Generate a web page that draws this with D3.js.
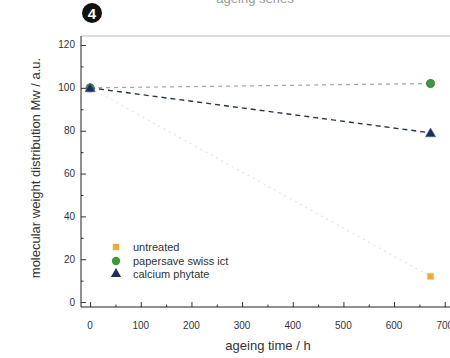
<!DOCTYPE html>
<html>
<head>
<meta charset="utf-8">
<script src="https://cdn.jsdelivr.net/npm/d3@7"></script>
<style>
body { margin: 0; background: #fff; }
svg { font-family: "Liberation Sans", Arial, sans-serif; }
</style>
</head>
<body>
<svg></svg>
<script>
const width = 450, height = 358
var svg = d3.select("svg")
    .attr("width", width)
    .attr("height", height);

// data
const times = [0, 672]
const untreated = [100, 12]
const papersave = [100, 102]
const phytate = [100, 79]
const seriesNames = ["untreated", "papersave swiss ict", "calcium phytate"]
const xTicks = [0, 100, 200, 300, 400, 500, 600, 700]
const yTicks = [0, 20, 40, 60, 80, 100, 120]

const x = d3.scaleLinear().domain([-18, 740]).range([81, 465])
const y = d3.scaleLinear().domain([-2.3, 124.2]).range([307, 36])

// faint cut-off title at the very top
svg.append("text")
    .attr("x", 255).attr("y", 3)
    .attr("text-anchor", "middle")
    .attr("font-size", 13)
    .attr("fill", "#999")
    .text("ageing series")

// panel badge
svg.append("circle").attr("cx", 92).attr("cy", 13).attr("r", 10).attr("fill", "#111")
svg.append("text")
    .attr("x", 92).attr("y", 18.5)
    .attr("text-anchor", "middle")
    .attr("font-size", 15).attr("font-weight", "bold")
    .attr("fill", "#fff")
    .text("4")

// frame top (light)
svg.append("line")
    .attr("x1", 81).attr("x2", 450)
    .attr("y1", 36).attr("y2", 36)
    .attr("stroke", "#aaa").attr("stroke-width", 0.8)

// axes, ticks pointing inward
const xAxis = svg.append("g")
    .attr("transform", "translate(0,307)")
    .call(d3.axisTop(x).tickValues(d3.range(0, 750, 50)).tickSize(4).tickFormat(""))
xAxis.select(".domain").remove()
svg.append("line").attr("x1", 81).attr("x2", 450).attr("y1", 307).attr("y2", 307)
    .attr("stroke", "#222").attr("stroke-width", 1)
xAxis.selectAll(".tick line")
    .attr("stroke", "#333")
    .attr("y2", (d) => d % 100 === 0 ? -5 : -2.5)

svg.selectAll(".xlab")
    .data(xTicks)
    .enter()
    .append("text")
    .attr("class", "xlab")
    .attr("x", d => x(d))
    .attr("y", 329)
    .attr("text-anchor", "middle")
    .attr("font-size", 10)
    .attr("fill", "#333")
    .text(d => d)

const yAxis = svg.append("g")
    .attr("transform", "translate(81,0)")
    .call(d3.axisRight(y).tickValues(d3.range(0, 130, 10)).tickSize(4).tickFormat(""))
yAxis.select(".domain").remove()
svg.append("line").attr("x1", 81).attr("x2", 81).attr("y1", 36).attr("y2", 307)
    .attr("stroke", "#222").attr("stroke-width", 1)
yAxis.selectAll(".tick line")
    .attr("stroke", "#333")
    .attr("x2", (d) => d % 20 === 0 ? 5 : 2.5)

svg.selectAll(".ylab")
    .data(yTicks)
    .enter()
    .append("text")
    .attr("class", "ylab")
    .attr("x", 75)
    .attr("y", d => y(d) + 3.5)
    .attr("text-anchor", "end")
    .attr("font-size", 10)
    .attr("fill", "#333")
    .text(d => d)

// axis titles
svg.append("text")
    .attr("transform", "translate(40,168) rotate(-90)")
    .attr("text-anchor", "middle")
    .attr("font-size", 13)
    .attr("fill", "#333")
    .text("molecular weight distribution Mw / a.u.")

svg.append("text")
    .attr("x", 268).attr("y", 350)
    .attr("text-anchor", "middle")
    .attr("font-size", 13)
    .attr("fill", "#333")
    .text("ageing time / h")

// lines
const line = d3.line().x((d, i) => x(times[i])).y(d => y(d))
svg.append("path").datum(untreated).attr("d", line)
    .attr("fill", "none").attr("stroke", "#ece4cc").attr("stroke-width", 1.2)
    .attr("stroke-dasharray", "2,4")
svg.append("path").datum(papersave).attr("d", line)
    .attr("fill", "none").attr("stroke", "#9aa6a6").attr("stroke-width", 1.2)
    .attr("stroke-dasharray", "4,4")
svg.append("path").datum(phytate).attr("d", line)
    .attr("fill", "none").attr("stroke", "#2c3548").attr("stroke-width", 1.4)
    .attr("stroke-dasharray", "5,4")

// markers
const sq = d3.symbol().type(d3.symbolSquare).size(40)
const ci = d3.symbol().type(d3.symbolCircle).size(55)
const tr = d3.symbol().type(d3.symbolTriangle).size(45)

svg.selectAll(".m0").data(untreated).enter().append("path")
    .attr("d", sq)
    .attr("transform", (d, i) => `translate(${x(times[i])},${y(d)})`)
    .attr("fill", "#f0a838").attr("stroke", "#f6cc80").attr("stroke-width", 0.6)
svg.selectAll(".m1").data(papersave).enter().append("path")
    .attr("d", ci)
    .attr("transform", (d, i) => `translate(${x(times[i])},${y(d)})`)
    .attr("fill", "#3d9a3a").attr("stroke", "#2a6a2a").attr("stroke-width", 0.6)
svg.selectAll(".m2").data(phytate).enter().append("path")
    .attr("d", tr)
    .attr("transform", (d, i) => `translate(${x(times[i])},${y(d) + 1})`)
    .attr("fill", "#1e2c5e").attr("stroke", "#4a6a8a").attr("stroke-width", 0.6)

// legend
const legendY = [247, 261, 274]
const legendSym = [sq, ci, tr]
const legendFill = ["#f0a838", "#3d9a3a", "#1e2c5e"]
seriesNames.forEach((name, i) => {
    svg.append("path")
        .attr("d", legendSym[i])
        .attr("transform", `translate(116,${legendY[i]})`)
        .attr("fill", legendFill[i])
    svg.append("text")
        .attr("x", 133).attr("y", legendY[i] + 4)
        .attr("font-size", 11)
        .attr("fill", "#333")
        .text(name)
})
</script>
</body>
</html>
